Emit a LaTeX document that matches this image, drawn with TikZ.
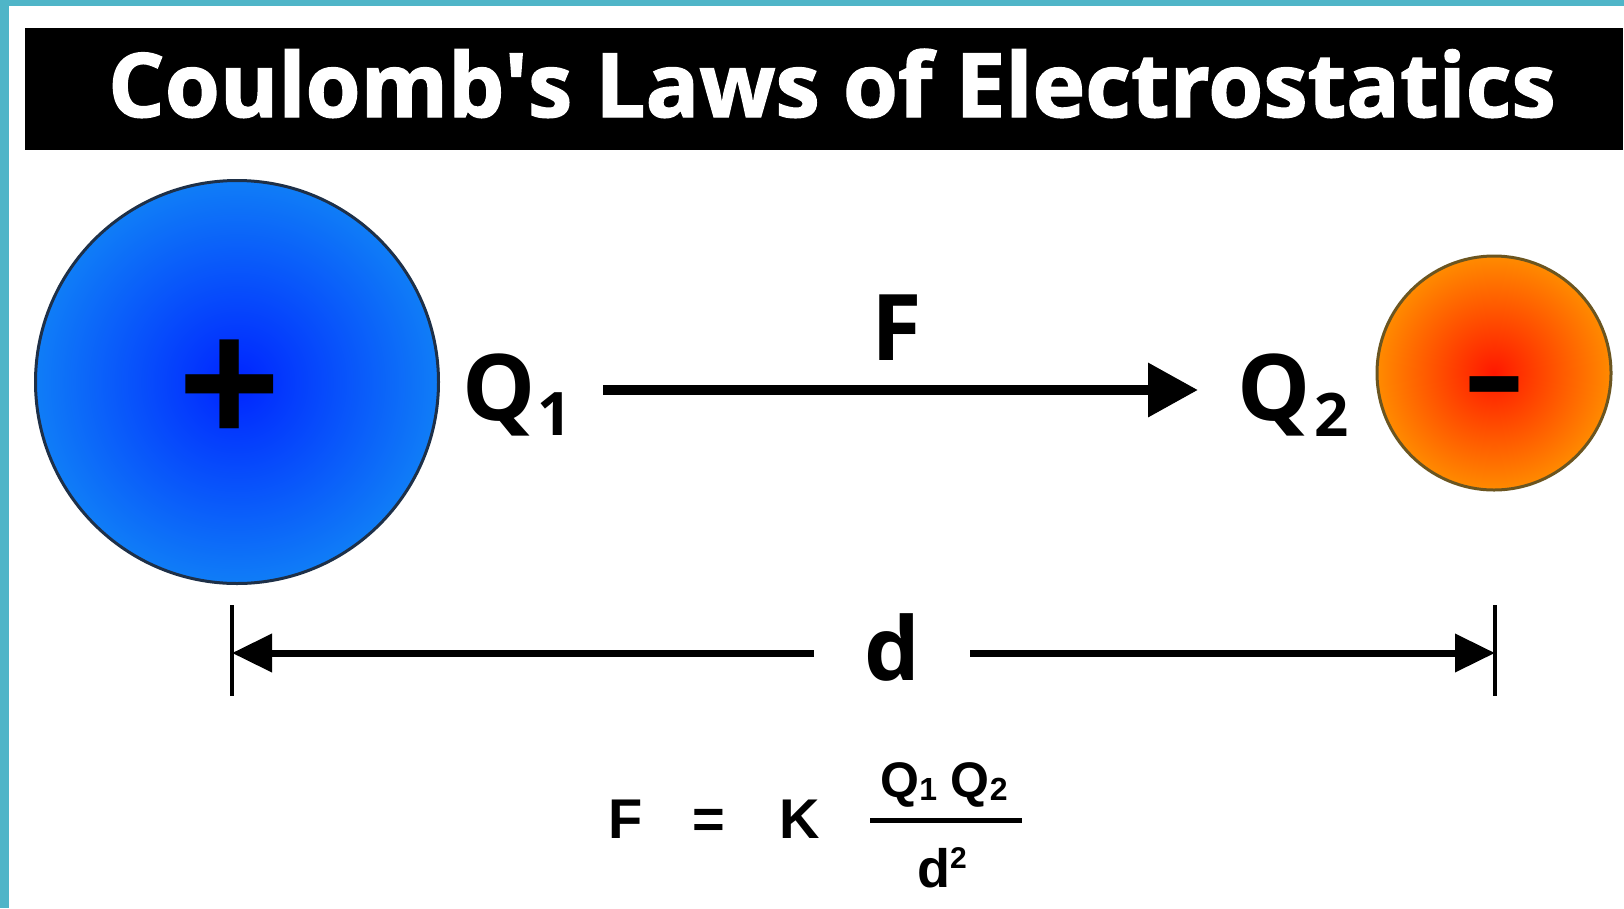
\documentclass[tikz,border=0pt]{standalone}
\usepackage{fontspec}
\setmainfont{Open Sans}
\newfontfamily\eqfont{Liberation Sans}
\newfontfamily\headfont[FakeBold=1.5]{Open Sans}
\usetikzlibrary{arrows.meta,positioning,calc}
\definecolor{frameteal}{HTML}{4FB5C8}
\definecolor{posinner}{HTML}{0024FF}
\definecolor{posouter}{HTML}{1496F5}
\definecolor{posedge}{HTML}{1E3048}
\definecolor{neginner}{HTML}{FF1800}
\definecolor{negouter}{HTML}{FFA600}
\definecolor{negedge}{HTML}{6B5520}
\pgfdeclareradialshading{posball}{\pgfpoint{0bp}{0bp}}{color(0bp)=(posinner); color(32bp)=(posouter); color(50bp)=(posouter)}
\pgfdeclareradialshading{negball}{\pgfpoint{0bp}{0bp}}{color(0bp)=(neginner); color(31bp)=(negouter); color(50bp)=(negouter)}

\begin{document}
\begin{tikzpicture}[x=1pt,y=-1pt,
  every node/.style={inner sep=0pt},
  charge/.style={circle,line width=3pt,shade},
  sign/.style={font=\eqfont\bfseries\fontsize{175}{175}\selectfont,anchor=base},
  qlabel/.style={font=\bfseries\fontsize{92}{100}\selectfont,anchor=base west},
  forcearr/.style={-{Triangle[length=50pt,width=52pt]},line width=10pt},
  dimarr/.style={-{Triangle[length=40pt,width=37pt]},line width=7pt},
  dimtick/.style={line width=4pt},
  eqtext/.style={font=\eqfont\bfseries\fontsize{56}{60}\selectfont,anchor=base west}
]
\useasboundingbox (0,0) rectangle (1624,908);
\fill[white] (0,0) rectangle (1624,908);
\fill[frameteal] (0,0) rectangle (1624,6);
\fill[frameteal] (0,0) rectangle (9,908);

% Title bar
\fill[black] (25,28) rectangle (1623,150);
\node[font=\headfont\bfseries\fontsize{89}{100}\selectfont,text=white,anchor=base] (title)
  at (832,117) {Coulomb\textquotesingle s Laws of Electrostatics};

% Charges
\node[charge,minimum size=403pt,draw=posedge,shading=posball] (q1ball) at (237,382) {};
\node[charge,minimum size=234pt,draw=negedge,shading=negball] (q2ball) at (1494,373) {};
\node[sign] (plus) at (230,442) {+};
\node[sign] (minus) at (1495,418) {\scalebox{1.1}[0.75]{-}};

% Labels and force
\node[qlabel] (q1lab) at (462,420) {Q\kern2pt\raisebox{-15pt}{\fontsize{60}{60}\selectfont 1}};
\node[qlabel] (q2lab) at (1237,420) {Q\kern4pt\raisebox{-16pt}{\fontsize{60}{60}\selectfont 2}};
\coordinate (fstart) at (603,390);
\coordinate (fend) at (1198,390);
\draw[forcearr] (fstart) -- (fend);
\node[qlabel,anchor=base] (flab) at (897,360) {F};

% Distance
\coordinate (dleft) at (232,653);
\coordinate (dright) at (1495,653);
\node[font=\bfseries\fontsize{88}{90}\selectfont,anchor=base,inner xsep=50pt] (dlab) at (892,680) {d};
\draw[dimarr] (dlab.west |- dleft) -- (dleft);
\draw[dimarr] (dlab.east |- dright) -- (dright);
\draw[dimtick] ([yshift=48pt]dleft) -- ([yshift=-43pt]dleft);
\draw[dimtick] ([yshift=48pt]dright) -- ([yshift=-43pt]dright);

% Formula
\node[eqtext] (eqf) at (608,838) {F};
\node[eqtext] (eqeq) at (692,838) {=};
\node[eqtext] (eqk) at (779,838) {K};
\node[eqtext,anchor=base,font=\eqfont\bfseries\fontsize{50}{54}\selectfont] (eqnum) at (944,797)
  {Q\raisebox{-3pt}{\fontsize{32}{32}\selectfont 1} Q\raisebox{-3pt}{\fontsize{32}{32}\selectfont 2}};
\coordinate (fracl) at (870,820);
\coordinate (fracr) at (1022,820);
\draw[line width=5pt] (fracl) -- (fracr);
\node[eqtext,anchor=base,font=\eqfont\bfseries\fontsize{54}{58}\selectfont] (eqden) at (942,887)
  {d\raisebox{19pt}{\fontsize{30}{30}\selectfont 2}};
\end{tikzpicture}
\end{document}
